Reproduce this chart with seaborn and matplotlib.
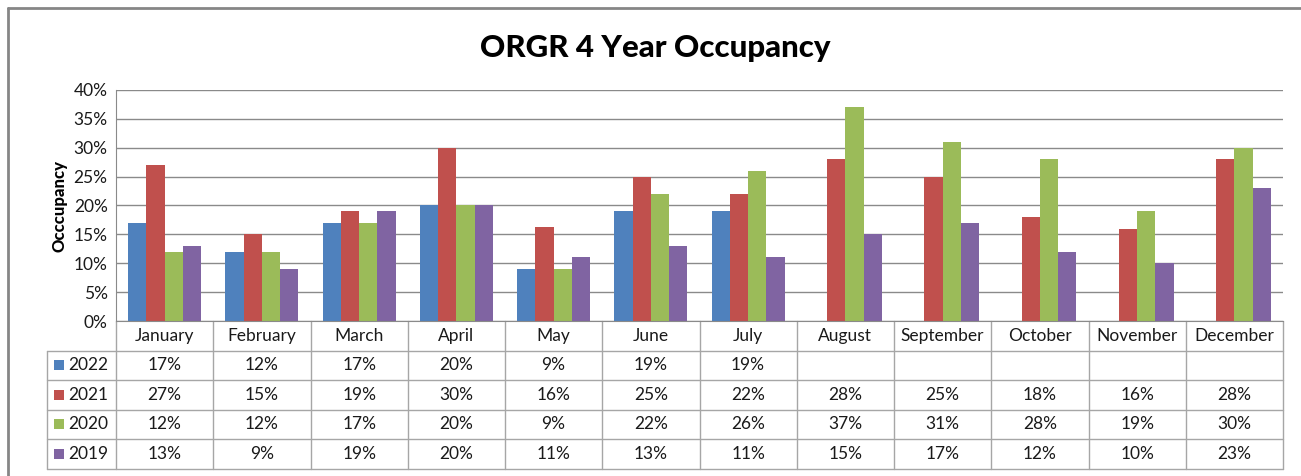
import numpy as np
import pandas as pd
import seaborn as sns
import matplotlib.pyplot as plt
from matplotlib.lines import Line2D
from matplotlib.patches import Rectangle
from matplotlib.transforms import blended_transform_factory

# data
months = ['January', 'February', 'March', 'April', 'May', 'June', 'July',
          'August', 'September', 'October', 'November', 'December']
years = ['2022', '2021', '2020', '2019']
occ_2022 = [0.17, 0.12, 0.17, 0.20, 0.09, 0.19, 0.19, np.nan, np.nan, np.nan, np.nan, np.nan]
occ_2021 = [0.27, 0.15, 0.19, 0.30, 0.163, 0.25, 0.22, 0.28, 0.25, 0.18, 0.16, 0.28]
occ_2020 = [0.12, 0.12, 0.17, 0.20, 0.09, 0.22, 0.26, 0.37, 0.31, 0.28, 0.19, 0.30]
occ_2019 = [0.13, 0.09, 0.19, 0.20, 0.11, 0.13, 0.11, 0.15, 0.17, 0.12, 0.10, 0.23]
colors = ['#4F81BD', '#C0504D', '#9BBB59', '#8064A2']

series = dict(zip(years, [occ_2022, occ_2021, occ_2020, occ_2019]))
df = pd.DataFrame([(m, y, v) for y, vals in series.items() for m, v in zip(months, vals)],
                  columns=['month', 'year', 'value'])

sns.set_style('white')
plt.rcParams['font.family'] = ['Lato', 'DejaVu Sans']

W, H = 1301, 476
fs = 12.5
txt = '#1a1a1a'
fig = plt.figure(figsize=(W / 100, H / 100), dpi=100)
# plot area in pixels: x 116..1283, y 90..321
ax = fig.add_axes([116 / W, 1 - 321 / H, (1283 - 116) / W, (321 - 90) / H])

sns.barplot(data=df, x='month', y='value', hue='year', hue_order=years,
            palette=colors, saturation=1, width=0.75, ax=ax, legend=False, edgecolor='none')

ax.set_xlim(-0.5, len(months) - 0.5)
ax.set_ylim(0, 0.40)
ax.set_yticks(np.arange(0, 0.401, 0.05))
ax.set_yticklabels([f'{int(round(t * 100))}%' for t in ax.get_yticks()], fontsize=fs)
ax.tick_params(axis='y', length=0, pad=6, colors=txt)
ax.set_xticks([])
ax.set_xlabel('')
ax.set_ylabel('Occcupancy', fontsize=12, fontweight='black', labelpad=4, color='black')
ax.yaxis.grid(True, color='#8a8a8a', linewidth=1)
ax.set_axisbelow(True)
for side in ['top', 'right']:
    ax.spines[side].set_visible(False)
ax.spines['left'].set_color('#8a8a8a')
ax.spines['bottom'].set_color('#8a8a8a')

fig.text(655 / W, 1 - 48 / H, 'ORGR 4 Year Occupancy', ha='center', va='center',
         fontsize=22.5, fontweight='black', color='black')

# data table under the axis
tr = blended_transform_factory(ax.transData, ax.transAxes)
rh = 29.5 / 231
nrows = len(years) + 1
line_kw = dict(color='#a6a6a6', linewidth=1, clip_on=False)
left_px = 47
x_left = ax.transData.inverted().transform((left_px, 0))[0]
x_left_lbl = ax.transData.inverted().transform((left_px + 21, 0))[0]
x_sq = ax.transData.inverted().transform((left_px + 7, 0))[0]
sq_w = 10 / (1167 / 12)

for k in range(len(months) + 1):
    ax.add_line(Line2D([k - 0.5, k - 0.5], [0, -nrows * rh], transform=tr, **line_kw))
ax.add_line(Line2D([x_left, x_left], [-rh, -nrows * rh], transform=tr, **line_kw))
for r in range(1, nrows + 1):
    ax.add_line(Line2D([x_left, len(months) - 0.5], [-r * rh, -r * rh], transform=tr, **line_kw))

for i, m in enumerate(months):
    ax.text(i, -0.5 * rh, m, transform=tr, ha='center', va='center', fontsize=fs, color=txt)

for r, (y, c) in enumerate(zip(years, colors), start=1):
    yc = -(r + 0.5) * rh
    ax.add_patch(Rectangle((x_sq, yc - 0.5 * 10 / 231), sq_w, 10 / 231, transform=tr,
                           facecolor=c, edgecolor='none', clip_on=False))
    ax.text(x_left_lbl, yc, y, transform=tr, ha='left', va='center', fontsize=fs, color=txt)
    for i, v in enumerate(series[y]):
        if not np.isnan(v):
            ax.text(i, yc, f'{int(round(v * 100))}%', transform=tr, ha='center', va='center',
                    fontsize=fs, color=txt)

# outer chart frame (top and left edges visible)
fig.add_artist(Line2D([8 / W, 1], [1 - 8 / H, 1 - 8 / H], transform=fig.transFigure,
                      color='#868686', linewidth=2))
fig.add_artist(Line2D([8 / W, 8 / W], [0, 1 - 8 / H], transform=fig.transFigure,
                      color='#868686', linewidth=2))

fig.savefig('out.png', dpi=100)
